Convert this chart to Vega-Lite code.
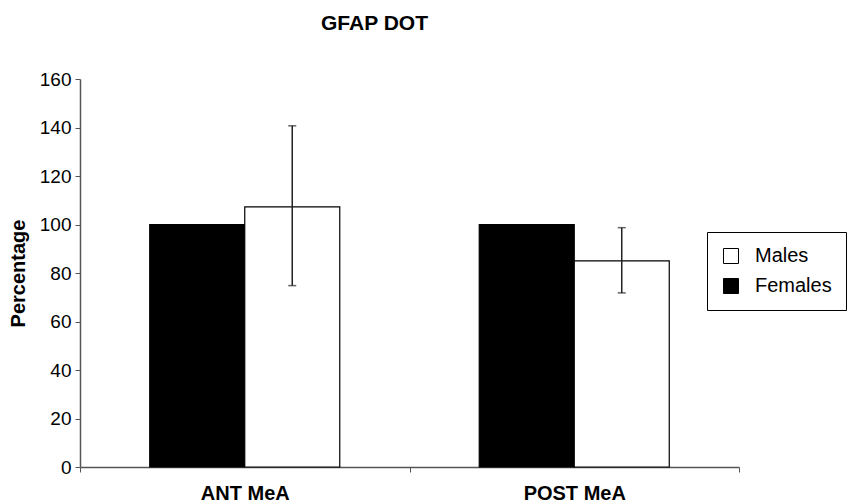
{
  "$schema": "https://vega.github.io/schema/vega-lite/v6.json",
  "width": 659,
  "height": 388,
  "autosize": {"type": "none"},
  "padding": {"left": 80, "top": 79, "right": 120, "bottom": 36},
  "background": "white",
  "title": {"text": "GFAP DOT", "fontSize": 21, "font": "Liberation Sans", "fontWeight": "bold", "anchor": "middle", "dx": -35, "offset": 36, "color": "black"},
  "config": {
    "view": {"stroke": null},
    "font": "Liberation Sans",
    "axis": {"grid": false, "domainColor": "#555555", "tickColor": "#555555", "labelColor": "black", "titleColor": "black", "labelFont": "Liberation Sans", "titleFont": "Liberation Sans"}
  },
  "data": {
    "values": [
      {"region": "ANT MeA", "sex": "Females", "value": 100, "lo": null, "hi": null},
      {"region": "ANT MeA", "sex": "Males", "value": 107.3, "lo": 74.8, "hi": 140.7},
      {"region": "POST MeA", "sex": "Females", "value": 100, "lo": null, "hi": null},
      {"region": "POST MeA", "sex": "Males", "value": 85, "lo": 71.8, "hi": 98.7}
    ]
  },
  "encoding": {
    "x": {
      "field": "region", "type": "nominal",
      "scale": {"paddingInner": 0, "paddingOuter": 0},
      "axis": {"title": null, "labelAngle": 0, "labelFontSize": 20, "labelFontWeight": "bold", "labelDx": 4, "tickBand": "extent", "tickSize": 5, "labelPadding": 11, "domainWidth": 1.5}
    },
    "xOffset": {"field": "sex", "type": "nominal", "sort": ["Females", "Males"], "scale": {"paddingInner": 0, "paddingOuter": 0.734}}
  },
  "layer": [
    {
      "mark": {"type": "bar", "stroke": "black", "strokeWidth": 1.2},
      "encoding": {
        "y": {
          "field": "value", "type": "quantitative",
          "scale": {"domain": [0, 160]},
          "axis": {"title": "Percentage", "titleFontSize": 20, "titleFontWeight": "bold", "labelFontSize": 19, "values": [0, 20, 40, 60, 80, 100, 120, 140, 160], "tickSize": 5, "labelPadding": 4, "titlePadding": 11, "domainWidth": 1.5}
        },
        "fill": {
          "field": "sex", "type": "nominal",
          "scale": {"domain": ["Males", "Females"], "range": ["white", "black"]},
          "legend": {
            "title": null, "orient": "none", "legendX": 627, "legendY": 153,
            "strokeColor": "black", "fillColor": "white", "padding": 14,
            "symbolType": "square", "symbolSize": 225, "symbolStrokeColor": "black", "symbolStrokeWidth": 1,
            "labelFontSize": 20, "labelFont": "Liberation Sans", "labelColor": "black", "rowPadding": 10, "labelOffset": 14,
            "labelLimit": 300,
            "labelExpr": "datum.label + '\u00a0\u00a0\u00a0\u00a0\u00a0\u00a0'"
          }
        }
      }
    },
    {
      "mark": {"type": "rule", "color": "#222222", "strokeWidth": 1.5},
      "encoding": {"y": {"field": "lo", "type": "quantitative"}, "y2": {"field": "hi"}}
    },
    {
      "mark": {"type": "tick", "color": "#222222", "size": 8, "thickness": 1.5},
      "encoding": {"y": {"field": "lo", "type": "quantitative"}}
    },
    {
      "mark": {"type": "tick", "color": "#222222", "size": 8, "thickness": 1.5},
      "encoding": {"y": {"field": "hi", "type": "quantitative"}}
    }
  ]
}
